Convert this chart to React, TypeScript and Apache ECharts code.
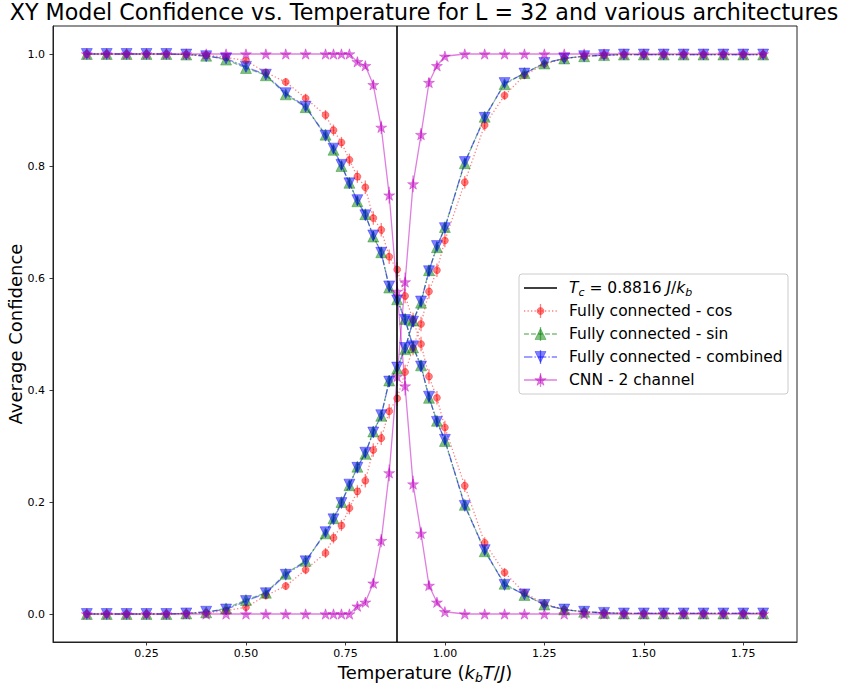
import React, { useEffect, useRef } from "react";
import * as echarts from "echarts";

// Temperatures at which the classifiers were evaluated (J/k_b units)
const temps = [
  0.10, 0.15, 0.20, 0.25, 0.30, 0.35, 0.40, 0.45, 0.50, 0.55, 0.60, 0.65, 0.70,
  0.72, 0.74, 0.76, 0.78, 0.80, 0.82, 0.84, 0.86, 0.88, 0.90, 0.92, 0.94, 0.96, 0.98, 1.00,
  1.05, 1.10, 1.15, 1.20, 1.25, 1.30, 1.35, 1.40, 1.45, 1.50, 1.55, 1.60, 1.65, 1.70, 1.75, 1.80,
];

// Fully connected network, cos input: confidence for the low-T and high-T phase
const cosBelow = [
  1.000, 1.000, 1.000, 1.000, 1.000, 0.999, 0.998, 0.994, 0.988, 0.967, 0.950, 0.921, 0.891,
  0.864, 0.842, 0.811, 0.781, 0.762, 0.707, 0.686, 0.638, 0.615, 0.568, 0.525, 0.482, 0.424, 0.386, 0.333,
  0.229, 0.127, 0.074, 0.038, 0.018, 0.008, 0.004, 0.002, 0.001, 0.001, 0.001, 0.001, 0.001, 0.001, 0.001, 0.001,
];
const cosAbove = [
  0.000, 0.000, 0.000, 0.000, 0.000, 0.001, 0.002, 0.006, 0.012, 0.033, 0.050, 0.079, 0.109,
  0.136, 0.158, 0.189, 0.219, 0.238, 0.293, 0.314, 0.362, 0.385, 0.432, 0.475, 0.518, 0.576, 0.614, 0.667,
  0.771, 0.873, 0.926, 0.962, 0.982, 0.992, 0.996, 0.998, 0.999, 0.999, 0.999, 0.999, 0.999, 0.999, 0.999, 0.999,
];
const cosErr = [
  0.001, 0.001, 0.001, 0.001, 0.001, 0.001, 0.002, 0.004, 0.006, 0.007, 0.007, 0.008, 0.009,
  0.010, 0.010, 0.011, 0.011, 0.012, 0.012, 0.012, 0.013, 0.013, 0.013, 0.013, 0.013, 0.013, 0.012, 0.012,
  0.011, 0.010, 0.008, 0.006, 0.004, 0.003, 0.002, 0.001, 0.001, 0.001, 0.001, 0.001, 0.001, 0.001, 0.001, 0.001,
];

// Fully connected network, sin input
const sinBelow = [
  1.000, 1.000, 1.000, 1.000, 1.000, 0.999, 0.997, 0.990, 0.975, 0.962, 0.928, 0.905, 0.856,
  0.829, 0.800, 0.770, 0.737, 0.714, 0.674, 0.646, 0.583, 0.562, 0.527, 0.476, 0.444, 0.386, 0.345, 0.309,
  0.195, 0.112, 0.054, 0.034, 0.017, 0.008, 0.004, 0.002, 0.001, 0.001, 0.001, 0.001, 0.001, 0.001, 0.001, 0.001,
];
const sinAbove = [
  0.000, 0.000, 0.000, 0.000, 0.000, 0.001, 0.003, 0.010, 0.025, 0.038, 0.072, 0.095, 0.144,
  0.171, 0.200, 0.230, 0.263, 0.286, 0.326, 0.354, 0.417, 0.438, 0.473, 0.524, 0.556, 0.614, 0.655, 0.691,
  0.805, 0.888, 0.946, 0.966, 0.983, 0.992, 0.996, 0.998, 0.999, 0.999, 0.999, 0.999, 0.999, 0.999, 0.999, 0.999,
];
const sinErr = [
  0.001, 0.001, 0.001, 0.001, 0.001, 0.001, 0.001, 0.003, 0.004, 0.005, 0.005, 0.006, 0.006,
  0.007, 0.007, 0.008, 0.008, 0.008, 0.009, 0.009, 0.009, 0.009, 0.009, 0.009, 0.009, 0.009, 0.008, 0.008,
  0.007, 0.007, 0.006, 0.004, 0.003, 0.002, 0.001, 0.001, 0.001, 0.001, 0.001, 0.001, 0.001, 0.001, 0.001, 0.001,
];

// Fully connected network, combined cos + sin input
const combBelow = [
  1.000, 1.000, 1.000, 1.000, 1.000, 0.999, 0.996, 0.992, 0.977, 0.963, 0.930, 0.906, 0.854,
  0.831, 0.802, 0.769, 0.739, 0.712, 0.676, 0.645, 0.585, 0.560, 0.525, 0.478, 0.442, 0.388, 0.343, 0.311,
  0.193, 0.114, 0.052, 0.035, 0.016, 0.008, 0.004, 0.002, 0.001, 0.001, 0.001, 0.001, 0.001, 0.001, 0.001, 0.001,
];
const combAbove = [
  0.000, 0.000, 0.000, 0.000, 0.000, 0.001, 0.004, 0.008, 0.023, 0.037, 0.070, 0.094, 0.146,
  0.169, 0.198, 0.231, 0.261, 0.288, 0.324, 0.355, 0.415, 0.440, 0.475, 0.522, 0.558, 0.612, 0.657, 0.689,
  0.807, 0.886, 0.948, 0.965, 0.984, 0.992, 0.996, 0.998, 0.999, 0.999, 0.999, 0.999, 0.999, 0.999, 0.999, 0.999,
];
const combErr = [
  0.001, 0.001, 0.001, 0.001, 0.001, 0.001, 0.001, 0.003, 0.004, 0.005, 0.005, 0.006, 0.006,
  0.007, 0.007, 0.007, 0.008, 0.008, 0.008, 0.009, 0.009, 0.009, 0.009, 0.009, 0.009, 0.008, 0.008, 0.008,
  0.007, 0.006, 0.005, 0.004, 0.003, 0.002, 0.001, 0.001, 0.001, 0.001, 0.001, 0.001, 0.001, 0.001, 0.001, 0.001,
];

// Two-channel CNN
const cnnBelow = [
  1.000, 1.000, 1.000, 1.000, 1.000, 1.000, 1.000, 1.000, 1.000, 1.000, 1.000, 1.000, 1.000,
  1.000, 1.000, 1.000, 0.986, 0.979, 0.945, 0.869, 0.748, 0.576, 0.407, 0.232, 0.144, 0.051, 0.021, 0.004,
  0.000, 0.000, 0.000, 0.000, 0.000, 0.000, 0.000, 0.000, 0.000, 0.000, 0.000, 0.000, 0.000, 0.000, 0.000, 0.000,
];
const cnnAbove = [
  0.000, 0.000, 0.000, 0.000, 0.000, 0.000, 0.000, 0.000, 0.000, 0.000, 0.000, 0.000, 0.000,
  0.000, 0.000, 0.000, 0.014, 0.021, 0.055, 0.131, 0.252, 0.424, 0.593, 0.768, 0.856, 0.949, 0.979, 0.996,
  1.000, 1.000, 1.000, 1.000, 1.000, 1.000, 1.000, 1.000, 1.000, 1.000, 1.000, 1.000, 1.000, 1.000, 1.000, 1.000,
];
const cnnErr = [
  0.001, 0.001, 0.001, 0.001, 0.001, 0.001, 0.001, 0.001, 0.001, 0.001, 0.001, 0.001, 0.001,
  0.001, 0.001, 0.001, 0.004, 0.005, 0.008, 0.012, 0.015, 0.017, 0.017, 0.015, 0.012, 0.008, 0.005, 0.002,
  0.001, 0.001, 0.001, 0.001, 0.001, 0.001, 0.001, 0.001, 0.001, 0.001, 0.001, 0.001, 0.001, 0.001, 0.001, 0.001,
];

// Critical temperature of the 2D XY model
const T_C = 0.8816;

const xTickValues = [0.25, 0.5, 0.75, 1.0, 1.25, 1.5, 1.75];
const yTickValues = [0.0, 0.2, 0.4, 0.6, 0.8, 1.0];

const legendLabels = [
  "Fully connected - cos",
  "Fully connected - sin",
  "Fully connected - combined",
  "CNN - 2 channel",
];

const FONT = "'DejaVu Sans', 'Noto Sans', sans-serif";
const RED = "rgba(255,0,0,0.5)";
const GREEN = "rgba(0,128,0,0.5)";
const BLUE = "rgba(0,0,255,0.5)";
const MAGENTA = "rgba(191,0,191,0.5)";

const DOTTED = [1.3, 2.2];
const DASHED = [4.9, 2.1];
const DASHDOT = [8.4, 2.1, 1.3, 2.1];

const LABEL_FONT = 18;

// five-pointed star outline (point up)
function starPoints(r: number, cx = 0, cy = 0): number[][] {
  const pts: number[][] = [];
  for (let k = 0; k < 10; k++) {
    const rr = k % 2 === 0 ? r : r * 0.382;
    const a = -Math.PI / 2 + (k * Math.PI) / 5;
    pts.push([cx + rr * Math.cos(a), cy + rr * Math.sin(a)]);
  }
  return pts;
}
const STAR_SYMBOL =
  "path://M" + starPoints(1).map((p) => `${p[0].toFixed(4)} ${p[1].toFixed(4)}`).join(" L") + " Z";

function curve(values: number[], color: string, symbol: string, size: number, dash: any, rotate = 0) {
  return {
    type: "line",
    data: temps.map((t, i) => [t, values[i]]),
    symbol,
    symbolSize: size,
    symbolRotate: rotate,
    symbolKeepAspect: true,
    showSymbol: true,
    itemStyle: { color, borderColor: color, borderWidth: 0.7 },
    lineStyle: { color, width: 1.3, type: dash },
    emphasis: { disabled: true },
    silent: true,
    z: 3,
  };
}

function errorBars(values: number[], errs: number[], color: string) {
  return {
    type: "custom",
    data: temps.map((t, i) => [t, values[i], errs[i]]),
    encode: { x: 0, y: 1 },
    silent: true,
    z: 3,
    renderItem: (_params: any, api: any) => {
      const x = api.value(0);
      const y = api.value(1);
      const e = api.value(2);
      const top = api.coord([x, y + e]);
      const bot = api.coord([x, y - e]);
      return {
        type: "line",
        shape: { x1: top[0], y1: top[1], x2: bot[0], y2: bot[1] },
        style: { stroke: color, lineWidth: 1.3 },
      };
    },
  };
}

// legend layout
const LG = { x: 519, y: 274, w: 269, h: 120, hx0: 524, hx1: 557, tx: 569, rows: [288, 311, 334, 357, 380] };
const LEGEND_FONT = 15.5;

function legendGraphics() {
  const hc = (LG.hx0 + LG.hx1) / 2;
  const els: any[] = [
    {
      type: "rect",
      shape: { x: LG.x, y: LG.y, width: LG.w, height: LG.h, r: 3 },
      style: { fill: "rgba(255,255,255,0.8)", stroke: "#cccccc", lineWidth: 1 },
      z: 10,
    },
  ];
  const handleLine = (row: number, color: string, dash: any, width = 1.3) => ({
    type: "line",
    shape: { x1: LG.hx0, y1: row, x2: LG.hx1, y2: row },
    style: { stroke: color, lineWidth: width, lineDash: dash },
    z: 11,
  });
  const vbar = (row: number, color: string) => ({
    type: "line",
    shape: { x1: hc, y1: row - 7, x2: hc, y2: row + 7 },
    style: { stroke: color, lineWidth: 1.3 },
    z: 11,
  });
  const r = LG.rows;
  // critical temperature
  els.push(handleLine(r[0], "#000", null, 1.6));
  // cos
  els.push(handleLine(r[1], RED, DOTTED), vbar(r[1], RED), {
    type: "circle",
    shape: { cx: hc, cy: r[1], r: 3.5 },
    style: { fill: RED, stroke: RED, lineWidth: 0.7 },
    z: 11,
  });
  // sin
  els.push(handleLine(r[2], GREEN, DASHED), vbar(r[2], GREEN), {
    type: "polygon",
    shape: { points: [[hc, r[2] - 5.5], [hc + 5.5, r[2] + 5.5], [hc - 5.5, r[2] + 5.5]] },
    style: { fill: GREEN, stroke: GREEN, lineWidth: 0.7 },
    z: 11,
  });
  // combined
  els.push(handleLine(r[3], BLUE, DASHDOT), vbar(r[3], BLUE), {
    type: "polygon",
    shape: { points: [[hc, r[3] + 5.5], [hc + 5.5, r[3] - 5.5], [hc - 5.5, r[3] - 5.5]] },
    style: { fill: BLUE, stroke: BLUE, lineWidth: 0.7 },
    z: 11,
  });
  // cnn
  els.push(handleLine(r[4], MAGENTA, null), vbar(r[4], MAGENTA), {
    type: "polygon",
    shape: { points: starPoints(6, hc, r[4] + 0.5) },
    style: { fill: MAGENTA, stroke: MAGENTA, lineWidth: 0.7 },
    z: 11,
  });
  // labels
  els.push({
    type: "text",
    x: LG.tx,
    y: r[0],
    z: 12,
    style: {
      text: "{i|T}{s|c}{n| = 0.8816 }{i|J}{n|/}{i|k}{s|b}",
      fill: "#000",
      fontFamily: FONT,
      fontSize: LEGEND_FONT,
      verticalAlign: "middle",
      align: "left",
      rich: {
        i: { fontStyle: "italic", fontSize: LEGEND_FONT, fontFamily: FONT, lineHeight: 20 },
        n: { fontSize: LEGEND_FONT, fontFamily: FONT, lineHeight: 20 },
        s: { fontStyle: "italic", fontSize: 11, fontFamily: FONT, lineHeight: 11, verticalAlign: "bottom" },
      },
    },
  });
  legendLabels.forEach((label, k) => {
    els.push({
      type: "text",
      x: LG.tx,
      y: r[k + 1],
      z: 12,
      style: {
        text: label,
        fill: "#000",
        fontFamily: FONT,
        fontSize: LEGEND_FONT,
        verticalAlign: "middle",
        align: "left",
      },
    });
  });
  return els;
}

export default function App() {
  const ref = useRef<HTMLDivElement>(null);

  useEffect(() => {
    if (!ref.current) return;
    const chart = echarts.init(ref.current, null, { renderer: "svg" });
    const axisColor = "#222";
    chart.setOption({
      animation: false,
      backgroundColor: "#ffffff",
      grid: {
        left: 53,
        right: 47,
        top: 26,
        bottom: 50,
        outerBoundsMode: "none",
        containLabel: false,
        show: true,
        borderColor: axisColor,
        borderWidth: 1,
        backgroundColor: "transparent",
      },
      xAxis: {
        type: "value",
        min: 0.015,
        max: 1.885,
        axisLine: { show: true, onZero: false, lineStyle: { color: axisColor, width: 1 } },
        axisTick: { show: true, inside: false, length: 3.5, lineStyle: { color: axisColor, width: 0.9 }, customValues: xTickValues },
        axisLabel: {
          customValues: xTickValues,
          formatter: (v: number) => v.toFixed(2),
          fontFamily: FONT,
          fontSize: 11,
          color: "#000",
          margin: 6,
        },
        splitLine: { show: false },
        name: "{a|Temperature (}{i|k}{s|b}{i|T}{a|/}{i|J}{a|)}",
        nameLocation: "middle",
        nameGap: 19,
        nameTextStyle: {
          fontFamily: FONT,
          fontSize: LABEL_FONT,
          color: "#000",
          rich: {
            a: { fontFamily: FONT, fontSize: LABEL_FONT, color: "#000", lineHeight: 22 },
            i: { fontFamily: FONT, fontSize: LABEL_FONT, fontStyle: "italic", color: "#000", lineHeight: 22 },
            s: { fontFamily: FONT, fontSize: 12.5, fontStyle: "italic", color: "#000", lineHeight: 13, verticalAlign: "bottom" },
          },
        },
      },
      yAxis: {
        type: "value",
        min: -0.05,
        max: 1.05,
        axisLine: { show: true, onZero: false, lineStyle: { color: axisColor, width: 1 } },
        axisTick: { show: true, inside: false, length: 3.5, lineStyle: { color: axisColor, width: 0.9 }, customValues: yTickValues },
        axisLabel: {
          customValues: yTickValues,
          formatter: (v: number) => v.toFixed(1),
          fontFamily: FONT,
          fontSize: 11,
          color: "#000",
          margin: 8,
        },
        splitLine: { show: false },
        name: "Average Confidence",
        nameLocation: "middle",
        nameGap: 29,
        nameMoveOverlap: false,
        nameTextStyle: { fontFamily: FONT, fontSize: LABEL_FONT, color: "#000" },
      },
      graphic: [
        {
          type: "text",
          x: 424,
          y: 12,
          style: {
            text: "XY Model Confidence vs. Temperature for L = 32 and various architectures",
            fontFamily: FONT,
            fontSize: 22.2,
            fill: "#000",
            align: "center",
            verticalAlign: "middle",
          },
        },
        ...legendGraphics(),
      ],
      series: [
        {
          type: "line",
          data: [],
          silent: true,
          z: 1,
          markLine: {
            silent: true,
            symbol: ["none", "none"],
            label: { show: false },
            lineStyle: { color: "#000", width: 1.6, type: "solid" },
            data: [{ xAxis: T_C }],
          },
        },
        errorBars(cosBelow, cosErr, RED),
        errorBars(cosAbove, cosErr, RED),
        curve(cosBelow, RED, "circle", 7, DOTTED),
        curve(cosAbove, RED, "circle", 7, DOTTED),
        errorBars(sinBelow, sinErr, GREEN),
        errorBars(sinAbove, sinErr, GREEN),
        curve(sinBelow, GREEN, "triangle", 11, DASHED),
        curve(sinAbove, GREEN, "triangle", 11, DASHED),
        errorBars(combBelow, combErr, BLUE),
        errorBars(combAbove, combErr, BLUE),
        curve(combBelow, BLUE, "triangle", 11, DASHDOT, 180),
        curve(combAbove, BLUE, "triangle", 11, DASHDOT, 180),
        errorBars(cnnBelow, cnnErr, MAGENTA),
        errorBars(cnnAbove, cnnErr, MAGENTA),
        curve(cnnBelow, MAGENTA, STAR_SYMBOL, 11, "solid"),
        curve(cnnAbove, MAGENTA, STAR_SYMBOL, 11, "solid"),
      ],
    });
    return () => chart.dispose();
  }, []);

  return (
    <div
      ref={ref}
      style={{ position: "fixed", left: 0, top: 0, width: 844, height: 692, background: "#fff" }}
    />
  );
}
